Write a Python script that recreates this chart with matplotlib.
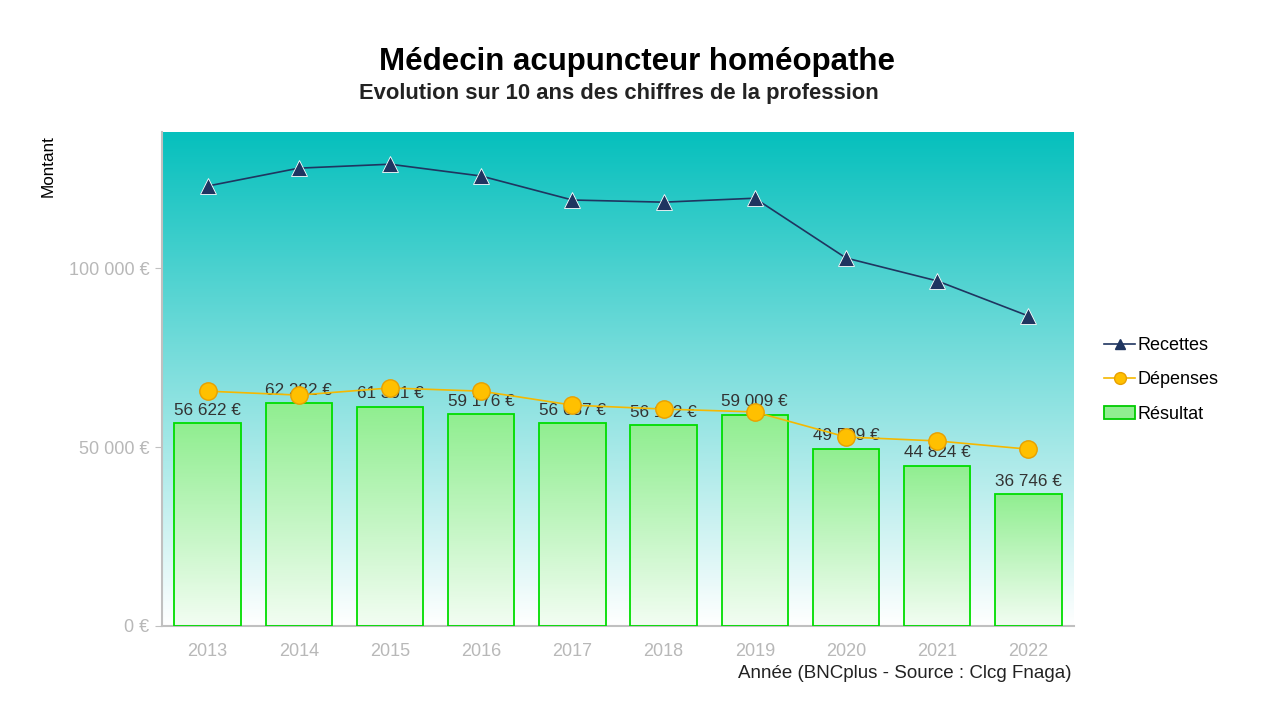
import matplotlib
matplotlib.use("Agg")
import matplotlib.pyplot as plt
import numpy as np
from matplotlib.lines import Line2D
from matplotlib.patches import Patch
from matplotlib.colors import LinearSegmentedColormap

plt.rcParams['font.family'] = ['Liberation Sans', 'DejaVu Sans']

years = ["2013", "2014", "2015", "2016", "2017", "2018", "2019", "2020", "2021", "2022"]
recettes = [122900, 127900, 129000, 125700, 119000, 118400, 119500, 102800, 96400, 86600]
depenses = [65600, 64500, 66500, 65600, 61700, 60600, 59800, 52800, 51700, 49400]
resultat = [56622, 62282, 61301, 59176, 56687, 56132, 59009, 49509, 44824, 36746]


def fmt_euro(v):
    return f"{v:,.0f} €".replace(",", " ")


fig = plt.figure(figsize=(12.68, 7.13), dpi=100)
ax = fig.add_axes([162 / 1268, 87 / 713, 912 / 1268, 494 / 713])

x = np.arange(len(years))
ymax = 138000
ax.set_xlim(-0.5, len(years) - 0.5)
ax.set_ylim(0, ymax)

# fond en dégradé turquoise -> blanc
bg = LinearSegmentedColormap.from_list("bg", ["#ffffff", "#06c0bd"])
grad = np.linspace(0, 1, 256).reshape(-1, 1)
ax.imshow(grad, cmap=bg, aspect="auto", origin="lower",
          extent=(-0.5, len(years) - 0.5, 0, ymax), zorder=0)

# barres avec dégradé vertical
bar_cmap = LinearSegmentedColormap.from_list("bar", ["#f2fdf2", "#90ee90"])
bars = ax.bar(x, resultat, width=0.73, facecolor="none", edgecolor="#00dd00",
              linewidth=1.3, zorder=3)
for b, v in zip(bars, resultat):
    im = ax.imshow(grad, cmap=bar_cmap, aspect="auto", origin="lower",
                   extent=(b.get_x(), b.get_x() + b.get_width(), 0, ymax),
                   vmin=0, vmax=v / ymax, zorder=2)
    im.set_clip_path(b)
    ax.text(b.get_x() + b.get_width() / 2, v + 1500, fmt_euro(v),
            ha="center", va="bottom", fontsize=12.3, color="#333333", zorder=4)

ax.plot(x, recettes, color="#1f3560", lw=1.2, marker="^", markersize=11,
        markerfacecolor="#1f3560", markeredgecolor="white", markeredgewidth=0.6, zorder=5)
ax.plot(x, depenses, color="#f5b800", lw=1.2, marker="o", markersize=12.5,
        markerfacecolor="#ffc000", markeredgecolor="#e8a000", markeredgewidth=1, zorder=5)

ax.set_xticks(x)
ax.set_xticklabels(years)
ax.set_yticks([0, 50000, 100000])
ax.set_yticklabels([fmt_euro(v) for v in [0, 50000, 100000]])
ax.tick_params(axis="x", length=0, pad=12, labelsize=13, labelcolor="#b8b8b8")
ax.tick_params(axis="y", length=5, color="#c0c0c0", pad=4, labelsize=13, labelcolor="#b8b8b8")
for s in ["top", "right"]:
    ax.spines[s].set_visible(False)
for s in ["left", "bottom"]:
    ax.spines[s].set_color("#c0c0c0")
    ax.spines[s].set_linewidth(1.5)

fig.text(48 / 1268, 1 - 166 / 713, "Montant", rotation=90, ha="center", va="center",
         fontsize=12.3, color="black")
fig.text(1072 / 1268, 1 - 673 / 713, "Année (BNCplus - Source : Clcg Fnaga)",
         ha="right", va="center", fontsize=13.5, color="#222222")
fig.text(637 / 1268, 1 - 62 / 713, "Médecin acupuncteur homéopathe", ha="center",
         va="center", fontsize=22.5, fontweight="bold")
fig.text(619 / 1268, 1 - 94 / 713, "Evolution sur 10 ans des chiffres de la profession",
         ha="center", va="center", fontsize=15.8, fontweight="bold", color="#222222")

handles = [
    Line2D([], [], color="#1f3560", marker="^", markersize=7, lw=1.2),
    Line2D([], [], color="#f5b800", marker="o", markersize=8.5,
           markerfacecolor="#ffc000", markeredgecolor="#e8a000", lw=1.2),
    Patch(facecolor="#90ee90", edgecolor="#00cc00", linewidth=1.3),
]
fig.legend(handles, ["Recettes", "Dépenses", "Résultat"], loc="center left",
           bbox_to_anchor=(1088 / 1268, 1 - 380 / 713), frameon=False,
           fontsize=13, handlelength=1.7, handletextpad=0.15, labelspacing=0.95)

fig.savefig("out.png", dpi=100)
